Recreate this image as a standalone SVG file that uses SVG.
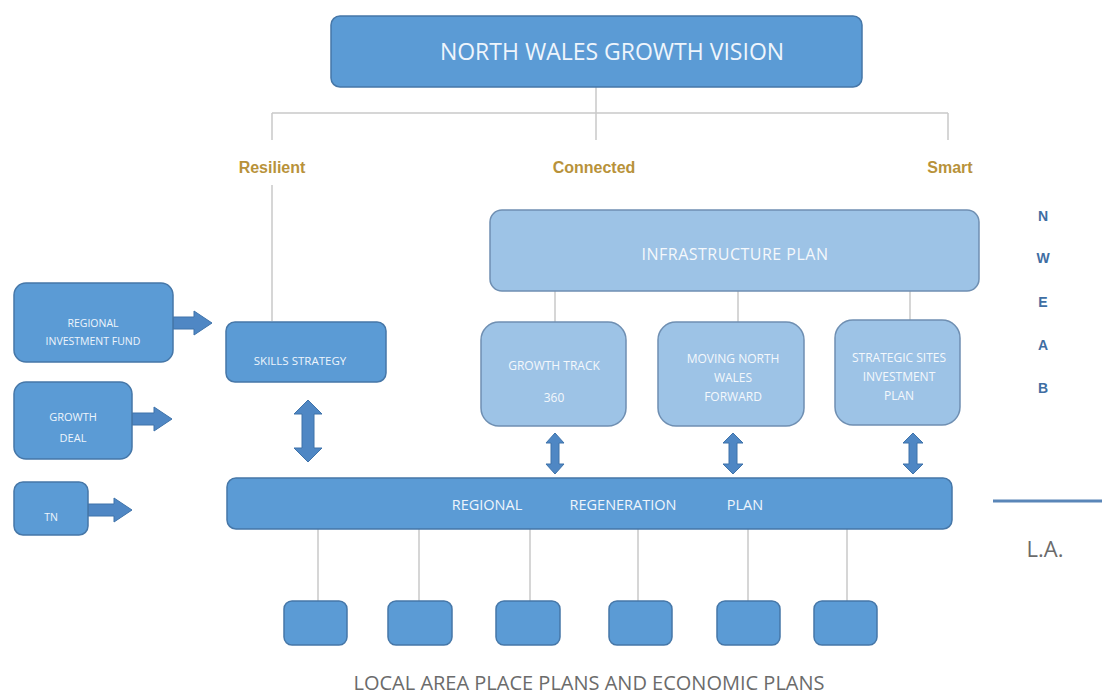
<svg xmlns="http://www.w3.org/2000/svg" width="1102" height="698" viewBox="0 0 1102 698">
<defs>
<style>
.dark{fill:#5b9bd5;stroke:#4677a8;stroke-width:1.5}
.light{fill:#9dc3e6;stroke:#6f8fb2;stroke-width:1.5}
.wt{fill:#eef5fc;font-family:"Open Sans","Liberation Sans",sans-serif;text-anchor:middle}
.lt{fill:#f4f8fc;font-family:"Open Sans","Liberation Sans",sans-serif;text-anchor:middle;font-size:12px}
.gold{fill:#b8923a;font-family:"Liberation Sans",sans-serif;font-weight:bold;font-size:16px;text-anchor:middle}
.gray{fill:#6b6b6b;font-family:"Open Sans","Liberation Sans",sans-serif;text-anchor:middle}
.nw{fill:#3f6ea3;font-family:"Liberation Sans",sans-serif;font-weight:bold;font-size:14px;text-anchor:middle}
.ln{stroke:#c9c9c9;stroke-width:1.5;fill:none}
.arr{fill:#4f87c4;stroke:#3f73aa;stroke-width:1}
</style>
</defs>
<rect width="1102" height="698" fill="#ffffff"/>
<g id="connectors">
<path class="ln" d="M596 87V113M272 113H948M272 113V140M596 113V140M948 113V140"/>
<path class="ln" d="M272 185V321"/>
<path class="ln" d="M555 291V322M738 291V322M910 291V320"/>
<path class="ln" d="M318 529V601M419 529V601M530 529V601M638 529V601M748 529V601M847 529V601"/>
<path d="M993 501H1102" stroke="#5a86b8" stroke-width="3"/>
<polygon class="arr" points="173,317 194,317 194,311 212,323 194,335 194,329 173,329"/>
<polygon class="arr" points="132,413 154,413 154,407 172,419 154,431 154,425 132,425"/>
<polygon class="arr" points="88,504 114,504 114,498 132,510 114,522 114,516 88,516"/>
<polygon class="arr" points="308,400 322,414 314,414 314,448 322,448 308,462 294,448 302,448 302,414 294,414"/>
<polygon class="arr" points="555,433 564,443 559,443 559,464 564,464 555,474 546,464 551,464 551,443 546,443"/>
<polygon class="arr" points="733,433 743,443 737,443 737,464 743,464 733,474 723,464 729,464 729,443 723,443"/>
<polygon class="arr" points="913,433 923,443 917,443 917,464 923,464 913,474 903,464 909,464 909,443 903,443"/>
</g>
<g id="vision">
<rect class="dark" x="331" y="16" width="531" height="71" rx="9"/>
<text class="wt" x="612" y="60" font-size="23">NORTH WALES GROWTH VISION</text>
</g>
<g id="resilient"><text class="gold" x="272" y="173">Resilient</text></g>
<g id="connected"><text class="gold" x="594" y="173">Connected</text></g>
<g id="smart"><text class="gold" x="950" y="173">Smart</text></g>
<g id="infrastructure">
<rect class="light" x="490" y="210" width="489" height="81" rx="12"/>
<text class="lt" x="735" y="260" style="font-size:16px;letter-spacing:0.5px">INFRASTRUCTURE PLAN</text>
</g>
<g id="growthtrack">
<rect class="light" x="481" y="322" width="145" height="104" rx="18"/>
<text class="lt" x="554" y="370">GROWTH TRACK</text>
<text class="lt" x="554" y="402">360</text>
</g>
<g id="moving">
<rect class="light" x="658" y="322" width="146" height="104" rx="18"/>
<text class="lt" x="733" y="363">MOVING NORTH</text>
<text class="lt" x="733" y="382">WALES</text>
<text class="lt" x="733" y="401">FORWARD</text>
</g>
<g id="strategic">
<rect class="light" x="835" y="320" width="125" height="105" rx="18"/>
<text class="lt" x="899" y="362">STRATEGIC SITES</text>
<text class="lt" x="899" y="381">INVESTMENT</text>
<text class="lt" x="899" y="400">PLAN</text>
</g>
<g id="skills">
<rect class="dark" x="226" y="322" width="160" height="60" rx="9"/>
<text class="wt" x="300" y="365" font-size="11.5">SKILLS STRATEGY</text>
</g>
<g id="rif">
<rect class="dark" x="14" y="283" width="159" height="79" rx="12"/>
<text class="wt" x="93" y="327" font-size="10.5">REGIONAL</text>
<text class="wt" x="93" y="345" font-size="10.5">INVESTMENT FUND</text>
</g>
<g id="growthdeal">
<rect class="dark" x="14" y="382" width="118" height="77" rx="12"/>
<text class="wt" x="73" y="421" font-size="11">GROWTH</text>
<text class="wt" x="73" y="442" font-size="11">DEAL</text>
</g>
<g id="tn">
<rect class="dark" x="14" y="482" width="74" height="53" rx="9"/>
<text class="wt" x="51" y="521" font-size="10.5">TN</text>
</g>
<g id="regen">
<rect class="dark" x="227" y="478" width="725" height="51" rx="9"/>
<text class="wt" x="487" y="510" font-size="14.5">REGIONAL</text>
<text class="wt" x="623" y="510" font-size="14.5">REGENERATION</text>
<text class="wt" x="745" y="510" font-size="14.5">PLAN</text>
</g>
<g id="local1"><rect class="dark" x="284" y="601" width="63" height="44" rx="8"/></g>
<g id="local2"><rect class="dark" x="388" y="601" width="64" height="44" rx="8"/></g>
<g id="local3"><rect class="dark" x="496" y="601" width="64" height="44" rx="8"/></g>
<g id="local4"><rect class="dark" x="609" y="601" width="63" height="44" rx="8"/></g>
<g id="local5"><rect class="dark" x="717" y="601" width="63" height="44" rx="8"/></g>
<g id="local6"><rect class="dark" x="814" y="601" width="63" height="44" rx="8"/></g>
<g id="localtitle"><text class="gray" x="589" y="690" font-size="20">LOCAL AREA PLACE PLANS AND ECONOMIC PLANS</text></g>
<g id="la"><text class="gray" x="1045" y="557" font-size="22">L.A.</text></g>
<g id="nweab">
<text class="nw" x="1043" y="221">N</text>
<text class="nw" x="1043" y="263">W</text>
<text class="nw" x="1043" y="307">E</text>
<text class="nw" x="1043" y="350">A</text>
<text class="nw" x="1043" y="393">B</text>
</g>
</svg>
